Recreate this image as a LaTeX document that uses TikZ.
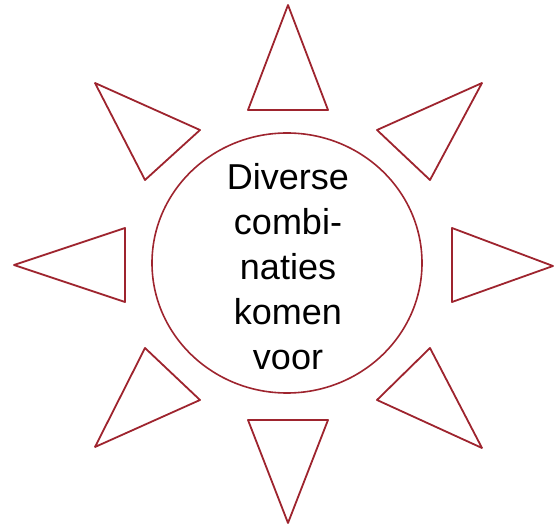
\documentclass[tikz,border=0pt]{standalone}
\usepackage{fontspec}
\setmainfont{Liberation Sans}
\usepackage{xcolor}
\usepackage{tikz}
\usetikzlibrary{positioning,shapes.geometric}

\definecolor{sunred}{RGB}{158,36,46}

\begin{document}
\begin{tikzpicture}[x=1pt, y=-1pt, ray/.style = {draw=sunred, line width=1.8pt, line join=round, fill=white}, hub/.style = {ellipse, draw=sunred, line width=1.6pt, minimum width=270pt, minimum height=260pt, inner sep=0pt}]

\useasboundingbox (0,0) rectangle (555,529);

% rays round the centre
\draw[ray] (288,5) -- (248,110) -- (328,110) -- cycle;
\draw[ray] (482,83) -- (377,130) -- (430,180) -- cycle;
\draw[ray] (553,266) -- (452,228) -- (452,302) -- cycle;
\draw[ray] (482,448) -- (430,348) -- (377,400) -- cycle;
\draw[ray] (288,523) -- (248,420) -- (328,420) -- cycle;
\draw[ray] (95,447) -- (145,348) -- (200,400) -- cycle;
\draw[ray] (14,265) -- (125,228) -- (125,302) -- cycle;
\draw[ray] (95,83) -- (200,130) -- (145,180) -- cycle;

\node[hub] (hub) at (287,263) {};
\node[align=center, font=\fontsize{36}{45}\selectfont] (txt) at (288,267) {Diverse\\combi-\\naties\\komen\\voor};
\end{tikzpicture}
\end{document}
